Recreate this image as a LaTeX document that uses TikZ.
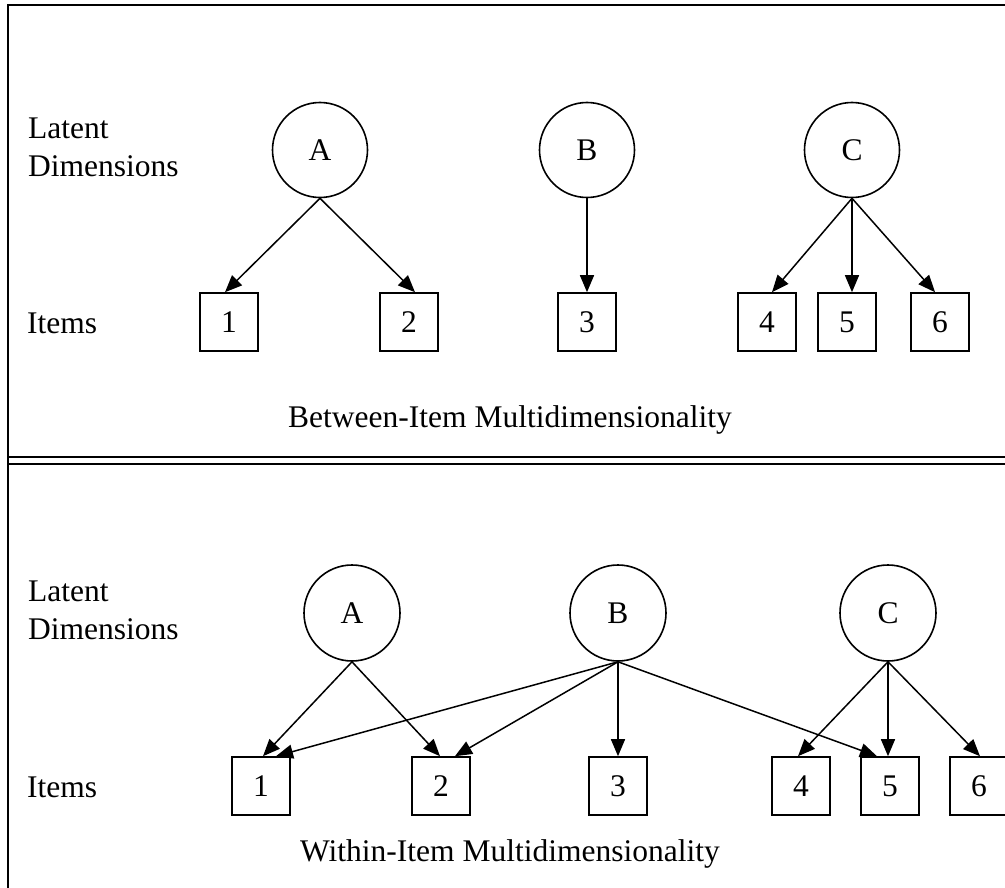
\documentclass[tikz,border=0pt]{standalone}
\usepackage{fontspec}
\setmainfont{Liberation Serif}
\usetikzlibrary{arrows.meta}
\tikzset{
  latent/.style={circle, draw, line width=1.6pt, minimum size=#1, inner sep=0pt, font=\fontsize{31.5}{37}\selectfont},
  item/.style={rectangle, draw, line width=1.6pt, minimum size=58pt, inner sep=0pt, font=\fontsize{31.5}{37}\selectfont},
  lbl/.style={inner sep=0pt, font=\fontsize{31.5}{37}\selectfont},
  arr/.style={line width=1.5pt, -{Triangle[length=17pt,width=14pt]}},
  frame/.style={line width=2.2pt}
}
\begin{document}
\begin{tikzpicture}[x=1pt,y=-1pt]
\useasboundingbox (0,0) rectangle (1005,888);
% frame
\draw[frame] (8,888) -- (8,5) -- (1005,5);
\draw[line width=2pt] (8,457.2) -- (1005,457.2);
\draw[line width=2pt] (8,463.6) -- (1005,463.6);

% ---------- top panel ----------
\node[lbl, anchor=base west] (tl1) at (28,139) {Latent};
\node[lbl, anchor=base west] (tl2) at (28,177) {Dimensions};
\node[lbl, anchor=base west] (ti) at (27,333) {Items};

\node[latent=95pt] (tA) at (320,150) {A};
\node[latent=95pt] (tB) at (587,150) {B};
\node[latent=95pt] (tC) at (852,150) {C};

\node[item] (t1) at (229,322) {1};
\node[item] (t2) at (409,322) {2};
\node[item] (t3) at (587,322) {3};
\node[item] (t4) at (767,322) {4};
\node[item] (t5) at (847,322) {5};
\node[item] (t6) at (940,322) {6};

\draw[arr] (tA.south) -- ([xshift=-4pt]t1.north);
\draw[arr] (tA.south) -- ([xshift=6pt]t2.north);
\draw[arr] (tB.south) -- (t3.north);
\draw[arr] (tC.south) -- ([xshift=5pt]t4.north);
\draw[arr] (tC.south) -- ([xshift=5pt]t5.north);
\draw[arr] (tC.south) -- ([xshift=-5pt]t6.north);

\node[lbl, anchor=base] (ttitle) at (510,427) {Between-Item Multidimensionality};

% ---------- bottom panel ----------
\node[lbl, anchor=base west] (bl1) at (28,601) {Latent};
\node[lbl, anchor=base west] (bl2) at (28,639) {Dimensions};
\node[lbl, anchor=base west] (bi) at (27,797) {Items};

\node[latent=96pt] (bA) at (352,613) {A};
\node[latent=96pt] (bB) at (618,613) {B};
\node[latent=96pt] (bC) at (888,613) {C};

\node[item] (b1) at (261,786) {1};
\node[item] (b2) at (441,786) {2};
\node[item] (b3) at (618,786) {3};
\node[item] (b4) at (801,786) {4};
\node[item] (b5) at (890,786) {5};
\node[item] (b6) at (979,786) {6};

\draw[arr] (bA.south) -- ([xshift=2pt]b1.north);
\draw[arr] (bA.south) -- ([xshift=-1pt]b2.north);
\draw[arr] (bB.south) -- ([xshift=15pt]b1.north);
\draw[arr] (bB.south) -- ([xshift=14pt]b2.north);
\draw[arr] (bB.south) -- (b3.north);
\draw[arr] (bB.south) -- ([xshift=-13pt]b5.north);
\draw[arr] (bC.south) -- ([xshift=-3pt]b4.north);
\draw[arr] (bC.south) -- ([xshift=-2pt]b5.north);
\draw[arr] (bC.south) -- ([xshift=1pt]b6.north);

\node[lbl, anchor=base] (btitle) at (510,861) {Within-Item Multidimensionality};
\end{tikzpicture}
\end{document}
